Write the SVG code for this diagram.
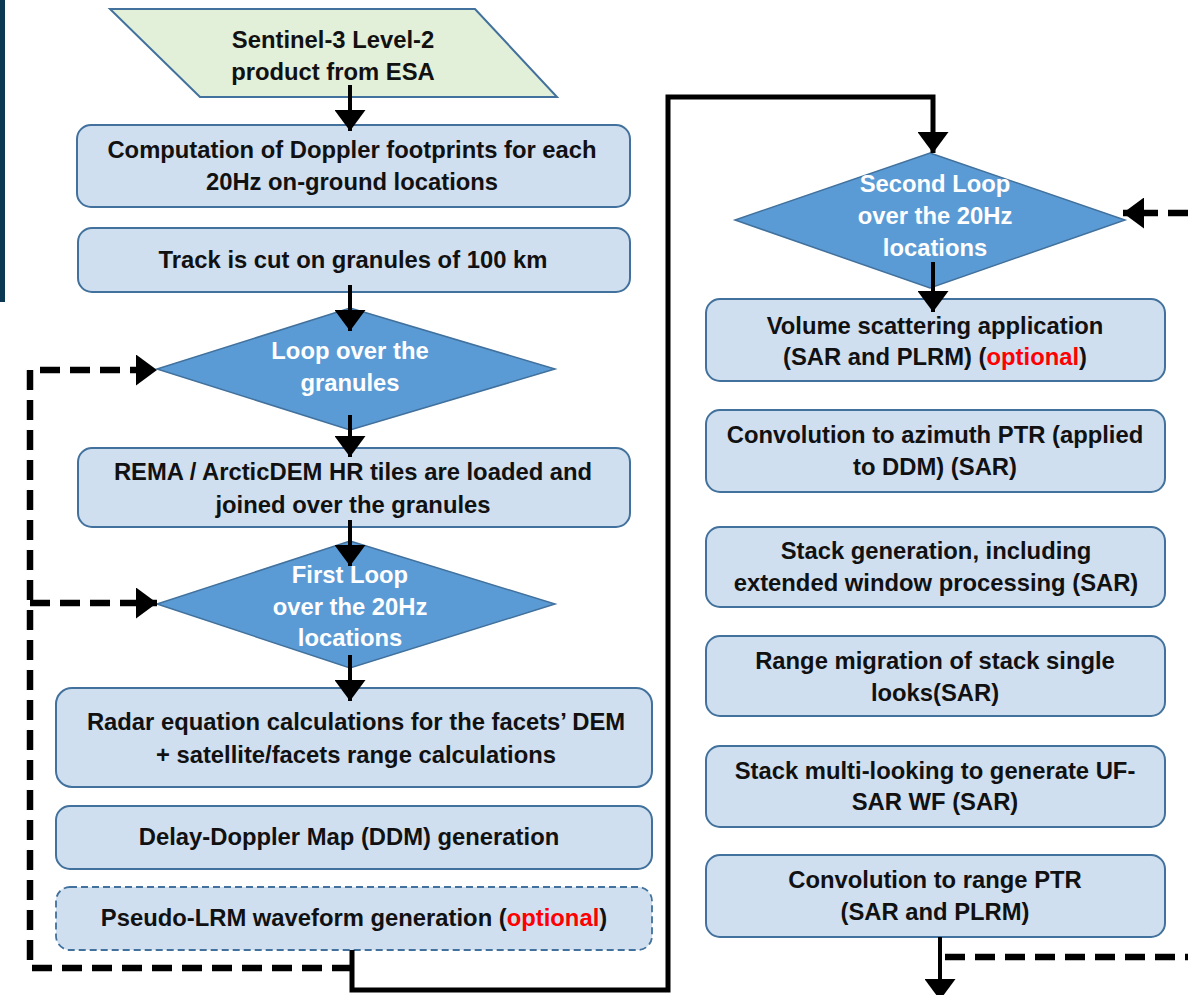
<svg xmlns="http://www.w3.org/2000/svg" width="1188" height="995" viewBox="0 0 1188 995">
<defs>
<style>
.box{fill:#cfdff0;stroke:#41719c;stroke-width:2}
.dbox{fill:#cfdff0;stroke:#41719c;stroke-width:1.8;stroke-dasharray:7,4}
.dia{fill:#5b9bd5;stroke:#41719c;stroke-width:1.5}
.para{fill:#e2efd9;stroke:#41719c;stroke-width:2}
text{font-family:"Liberation Sans",Arial,sans-serif;font-weight:bold;font-size:23.8px;text-anchor:middle;fill:#111}
.w{fill:#ffffff}
.red{fill:#ff0000}
.arr{fill:none;stroke:#000;stroke-width:4}
.loop{fill:none;stroke:#000;stroke-width:5}
.dash{fill:none;stroke:#000;stroke-width:6.5;stroke-dasharray:20,10}
</style>
<marker id="ah" markerUnits="userSpaceOnUse" viewBox="0 0 21 31" refX="21" refY="15.5" markerWidth="21" markerHeight="31" orient="auto">
<path d="M0,0 L21,15.5 L0,31 z" fill="#000"/>
</marker>
</defs>
<rect x="0" y="0" width="5" height="302" fill="#0b3954"/>

<g id="n_input">
<polygon class="para" points="110,9 475,9 557,97 200,97"/>
<text x="333" y="48">Sentinel-3 Level-2</text>
<text x="333" y="80">product from ESA</text>
</g>
<g id="n_doppler">
<rect class="box" x="77" y="125" width="553" height="82" rx="14"/>
<text x="352" y="158">Computation of Doppler footprints for each</text>
<text x="352" y="190">20Hz on-ground locations</text>
</g>
<g id="n_track">
<rect class="box" x="78" y="228" width="552" height="64" rx="14"/>
<text x="353" y="268">Track is cut on granules of 100 km</text>
</g>
<g id="n_loop_granules">
<polygon class="dia" points="350,308 555,369 350,430 157,369"/>
<text class="w" x="350" y="359">Loop over the</text>
<text class="w" x="350" y="391">granules</text>
</g>
<g id="n_rema">
<rect class="box" x="78" y="448" width="552" height="79" rx="14"/>
<text x="353" y="480">REMA / ArcticDEM HR tiles are loaded and</text>
<text x="353" y="513">joined over the granules</text>
</g>
<g id="n_first_loop">
<polygon class="dia" points="350,541 555,604 350,668 157,604"/>
<text class="w" x="350" y="583">First Loop</text>
<text class="w" x="350" y="615">over the 20Hz</text>
<text class="w" x="350" y="646">locations</text>
</g>
<g id="n_radar">
<rect class="box" x="56" y="688" width="596" height="99" rx="16"/>
<text x="356" y="730">Radar equation calculations for the facets’ DEM</text>
<text x="356" y="763">+ satellite/facets range calculations</text>
</g>
<g id="n_ddm">
<rect class="box" x="56" y="806" width="596" height="63" rx="14"/>
<text x="349" y="845">Delay-Doppler Map (DDM) generation</text>
</g>
<g id="n_plrm">
<rect class="dbox" x="56" y="887" width="596" height="63" rx="14"/>
<text x="354" y="926">Pseudo-LRM waveform generation (<tspan class="red">optional</tspan>)</text>
</g>

<g id="n_second_loop">
<polygon class="dia" points="930,153 1125,220 930,288 735,220"/>
<text class="w" x="935" y="192">Second Loop</text>
<text class="w" x="935" y="224">over the 20Hz</text>
<text class="w" x="935" y="256">locations</text>
</g>
<g id="n_volume">
<rect class="box" x="706" y="299" width="459" height="82" rx="14"/>
<text x="935" y="334">Volume scattering application</text>
<text x="935" y="365">(SAR and PLRM) (<tspan class="red">optional</tspan>)</text>
</g>
<g id="n_conv_az">
<rect class="box" x="706" y="410" width="459" height="82" rx="14"/>
<text x="935" y="443">Convolution to azimuth PTR (applied</text>
<text x="935" y="475">to DDM) (SAR)</text>
</g>
<g id="n_stack">
<rect class="box" x="706" y="527" width="459" height="80" rx="14"/>
<text x="936" y="559">Stack generation, including</text>
<text x="936" y="591">extended window processing (SAR)</text>
</g>
<g id="n_rmc">
<rect class="box" x="706" y="636" width="459" height="80" rx="14"/>
<text x="935" y="669">Range migration of stack single</text>
<text x="935" y="701">looks(SAR)</text>
</g>
<g id="n_multilook">
<rect class="box" x="706" y="746" width="459" height="81" rx="14"/>
<text x="935" y="779">Stack multi-looking to generate UF-</text>
<text x="935" y="810">SAR WF (SAR)</text>
</g>
<g id="n_conv_range">
<rect class="box" x="706" y="855" width="459" height="82" rx="14"/>
<text x="935" y="888">Convolution to range PTR</text>
<text x="935" y="920">(SAR and PLRM)</text>
</g>

<g id="connectors">
<path class="arr" d="M350,85 L350,131" marker-end="url(#ah)"/>
<path class="arr" d="M350,285 L350,331" marker-end="url(#ah)"/>
<path class="arr" d="M350,415 L350,457" marker-end="url(#ah)"/>
<path class="arr" d="M350,520 L350,566" marker-end="url(#ah)"/>
<path class="arr" d="M350,655 L350,701" marker-end="url(#ah)"/>
<path class="arr" d="M933,262 L933,312" marker-end="url(#ah)"/>
<path class="loop" d="M352,950 L352,990 L668,990 L668,97 L933,97 L933,153" marker-end="url(#ah)"/>
<path class="arr" d="M940,937 L940,1000" marker-end="url(#ah)"/>
<path class="dash" d="M945,957 L1188,957"/>
<path class="dash" d="M1188,213 L1123,213" marker-end="url(#ah)"/>
<path class="dash" d="M352,968 L30,968 L30,370 L157,370" marker-end="url(#ah)"/>
<path class="dash" d="M30,603 L157,603" marker-end="url(#ah)"/>
</g>
</svg>
